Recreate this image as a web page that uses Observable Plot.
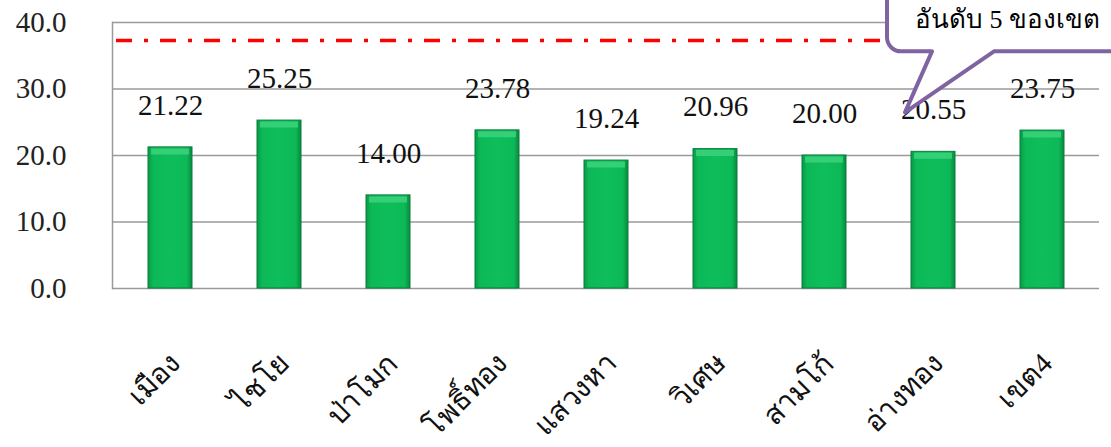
<!DOCTYPE html>
<html>
<head>
<meta charset="utf-8">
<script src="https://cdn.jsdelivr.net/npm/d3@7"></script>
<script src="https://cdn.jsdelivr.net/npm/@observablehq/plot@0.6"></script>
<style>
  html, body { margin: 0; padding: 0; background: #fff; }
  #chart svg { display: block; }
  #chart svg text { font-family: "Liberation Serif", "Times New Roman", serif !important; }
</style>
</head>
<body>
<svg width="0" height="0" style="position:absolute">
  <defs>
    <linearGradient id="barGrad" x1="0" x2="1" y1="0" y2="0">
      <stop offset="0" stop-color="#079A47"/>
      <stop offset="0.12" stop-color="#0DB957"/>
      <stop offset="0.5" stop-color="#0EBD5B"/>
      <stop offset="0.88" stop-color="#0DB957"/>
      <stop offset="1" stop-color="#068A3E"/>
    </linearGradient>
  </defs>
</svg>
<div id="chart"></div>
<script>
const categories = ["เมือง", "ไชโย", "ป่าโมก", "โพธิ์ทอง", "แสวงหา", "วิเศษ", "สามโก้", "อ่างทอง", "เขต4"];
const values = [21.22, 25.25, 14.00, 23.78, 19.24, 20.96, 20.00, 20.55, 23.75];
const yTicks = [0, 10, 20, 30, 40];
const targetValue = [37.3];
const calloutText = "อันดับ 5 ของเขต";
const calloutCategory = "อ่างทอง";

const data = categories.map((c, i) => ({category: c, value: values[i]}));
const calloutDatum = data.find(d => d.category === calloutCategory);

const serif = "'Liberation Serif', 'Times New Roman', serif";

function callout(datum, text) {
  return (index, scales, values, dimensions, context) => {
    const cx = scales.x(datum.category) + scales.x.bandwidth() / 2;
    const ly = scales.y(datum.value) - 42;
    const tipX = cx - 28, tipY = ly + 3;
    const left = tipX - 18, bottom = tipY - 61, top = -20, right = dimensions.width + 30, r = 14;
    const b1 = tipX + 27, b2 = tipX + 89;
    const p = d3.path();
    p.moveTo(left + r, top);
    p.lineTo(right, top);
    p.lineTo(right, bottom);
    p.lineTo(b2, bottom);
    p.lineTo(tipX, tipY);
    p.lineTo(b1, bottom);
    p.lineTo(left + r, bottom);
    p.arcTo(left, bottom, left, bottom - r, r);
    p.lineTo(left, top);
    const g = d3.create("svg:g");
    g.append("path")
      .attr("d", p.toString())
      .attr("fill", "#fff")
      .attr("stroke", "#8064A2")
      .attr("stroke-width", 4)
      .attr("stroke-linejoin", "round");
    g.append("text")
      .attr("x", left + 28)
      .attr("y", 28)
      .attr("text-anchor", "start")
      .attr("font-size", 26)
      .attr("fill", "#000")
      .text(text);
    return g.node();
  };
}

const chart = Plot.plot({
  width: 1111,
  height: 447,
  marginLeft: 112,
  marginRight: 12,
  marginTop: 22,
  marginBottom: 159,
  style: {fontFamily: serif, background: "#fff", overflow: "visible"},
  x: {domain: categories, paddingInner: 0.6, paddingOuter: 0.3, label: null},
  y: {domain: [0, 40], ticks: yTicks, label: null},
  marks: [
    Plot.gridY(yTicks, {stroke: "#9a9a9a", strokeOpacity: 1, strokeWidth: 1.5}),
    Plot.frame({anchor: "left", stroke: "#9a9a9a", strokeWidth: 1.5}),
    Plot.axisY(yTicks, {tickSize: 0, tickPadding: 46, tickFormat: d => d.toFixed(1), fontSize: 29, fill: "#222", style: {letterSpacing: "1.5px"}}),
    Plot.axisX({tickSize: 0, tickRotate: -45, tickPadding: 70, dx: 5, fontSize: 29, fill: "#111"}),
    Plot.ruleY(targetValue, {stroke: "#FF0000", strokeWidth: 3.5, strokeDasharray: "16,12,4,12", strokeDashoffset: -4}),
    Plot.barY(data, {x: "category", y: "value", fill: "url(#barGrad)", stroke: "#0A7C3D", strokeWidth: 1}),
    Plot.tickY(data, {x: "category", y: "value", dy: 4, inset: 3, stroke: "#3ED47F", strokeWidth: 6, strokeOpacity: 0.8}),
    Plot.text(data, {x: "category", y: "value", text: d => d.value.toFixed(2), dy: -42, fontSize: 29, fill: "#111", style: {letterSpacing: "1.5px"}}),
    callout(calloutDatum, calloutText)
  ]
});
document.getElementById("chart").appendChild(chart);
</script>
</body>
</html>
